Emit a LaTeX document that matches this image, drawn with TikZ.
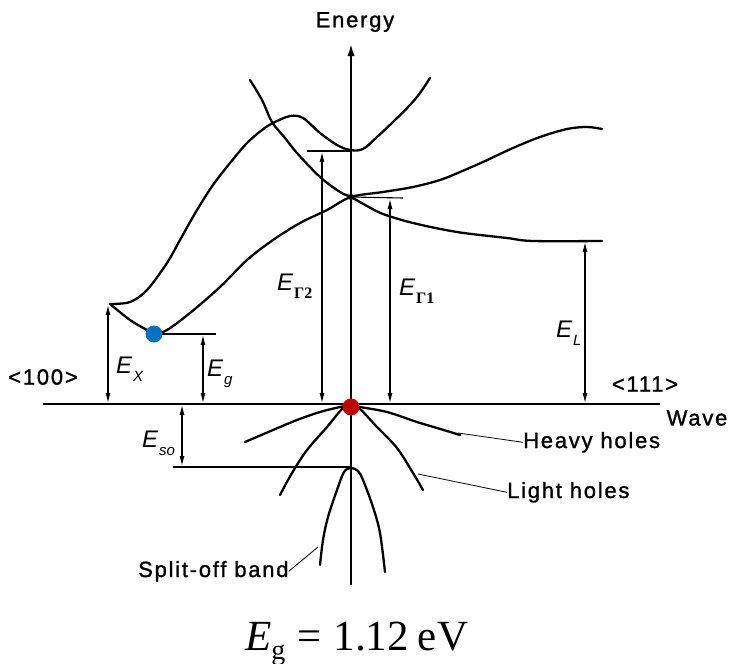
\documentclass[tikz,border=0pt]{standalone}
\usepackage{fontspec}
\setmainfont{Liberation Sans}
\newfontfamily\lab{Liberation Sans}[LetterSpace=8,FakeBold=1.2]
\newfontfamily\serif{Liberation Serif}
\usetikzlibrary{arrows.meta}
\definecolor{dotred}{RGB}{192,0,0}
\definecolor{dotblue}{RGB}{0,112,192}
\newcommand{\EE}[1]{{\fontsize{24}{24}\selectfont\itshape E}\kern1pt\raisebox{-8pt}{#1}}
\newcommand{\subit}[1]{\fontsize{15}{15}\selectfont\itshape #1}
\newcommand{\subgam}[1]{\serif\bfseries\fontsize{16}{16}\selectfont #1}
\begin{document}
\begin{tikzpicture}[x=1pt,y=-1pt,
  band/.style={line width=2.3pt, line cap=round, line join=round},
  axisline/.style={line width=2.7pt},
  thinline/.style={line width=1.1pt},
  leader/.style={line width=0.8pt},
  dim/.style={line width=1.1pt, {Latex[length=10pt,width=5pt]}-{Latex[length=10pt,width=5pt]}},
  lbl/.style={font=\lab\fontsize{22}{24}\selectfont, inner sep=0pt},
  elbl/.style={inner sep=0pt, anchor=base west},
]
\useasboundingbox (0,0) rectangle (731,664);

% key coordinates
\coordinate (G) at (351,405);
\coordinate (Gc) at (351,197);
\coordinate (X) at (110,304);
\coordinate (Xmin) at (154,334);
\coordinate (vb) at (351,585);
\coordinate (vt) at (351,42);
\coordinate (hl) at (43,404);
\coordinate (hr) at (660,404);

% axes
\draw[axisline] (hl) -- (hr);
\draw[axisline, -{Latex[length=14pt,width=7pt]}] (vb) -- (vt);

% conduction bands
\draw[band] plot[smooth, tension=0.55] coordinates {(110,304) (130,302) (147,290) (167,263) (180,240) (197,210) (213,185) (230,163) (247,143) (262,130) (273,123) (290,116) (303,118) (320,133) (337,145) (350,150) (363,149) (377,137) (393,122) (410,105) (420,93) (430,78)};
\draw[band] plot[smooth, tension=0.55] coordinates {(250,80) (262,100) (272,122) (285,138) (297,153) (320,177) (340,192) (351,197) (367,206) (383,214) (413,223) (457,232) (507,238) (533,241) (602,241)};
\draw[band] plot[smooth, tension=0.55] coordinates {(110,304) (130,320) (147,330) (154,334) (167,330) (190,313) (220,287) (247,260) (273,240) (300,223) (327,210) (351,197) (383,192) (413,187) (440,180) (460,172) (483,162) (513,148) (540,137) (567,129) (587,127) (602,129)};
\fill (Gc) circle (3);

% valence bands
\draw[band] plot[smooth, tension=0.55] coordinates {(351,405) (340,407) (320,412) (297,420) (273,430) (245,442)};
\draw[band] plot[smooth, tension=0.55] coordinates {(351,405) (360,407) (387,412) (417,422) (437,428) (460,435)};
\draw[band] plot[smooth, tension=0.55] coordinates {(351,405) (343,408) (327,427) (307,450) (292,473) (280,495)};
\draw[band] plot[smooth, tension=0.55] coordinates {(351,405) (360,409) (377,427) (397,448) (413,473) (423,490)};
\draw[band] plot[smooth, tension=0.55] coordinates {(320,565) (323,540) (328,517) (337,490) (344,472) (351,468) (358,471) (363,480) (373,507) (380,533) (385,572)};

% reference ticks
\draw[thinline] (Xmin) -- (216,334);
\draw[thinline] (307,151) -- (351,151);
\draw[thinline] (Gc) -- (403,198);
\draw[thinline] (173,467) -- (351,467);

% dimension arrows
\draw[dim] (108,305) -- (108,403);
\draw[dim] (203,335) -- (203,403);
\draw[dim] (322,152) -- (322,403);
\draw[dim] (390,199) -- (390,403);
\draw[dim] (585,242) -- (585,403);
\draw[dim] (182,405) -- (182,466);

% energy labels
\node[elbl] (ex) at (116,373) {\EE{\subit{X}}};
\node[elbl] (eg) at (207,376) {\EE{\subit{g}}};
\node[elbl] (eg2) at (277,290) {\EE{\subgam{Γ2}}};
\node[elbl] (eg1) at (399,295) {\EE{\subgam{Γ1}}};
\node[elbl] (el) at (556,337) {\EE{\subit{L}}};
\node[elbl] (eso) at (142,447) {\EE{\subit{so}}};

% text labels
\node[lbl] (energy) at (355,22) {Energy};
\node[lbl] (wave) at (697,418) {Wave};
\node[lbl] (d100) at (43,377) {<100>};
\node[lbl] (d111) at (645,384) {<111>};
\node[lbl, anchor=base west] (hh) at (523,448) {Heavy holes};
\node[lbl, anchor=base west] (lh) at (507,498) {Light holes};
\node[lbl, anchor=base west] (so) at (138,577) {Split-off band};

% leaders
\coordinate (hhend) at (458,433);
\coordinate (lhend) at (418,474);
\coordinate (soend) at (318,547);
\draw[leader] (hhend) -- (hh.west);
\draw[leader] (lhend) -- (lh.west);
\draw[leader] (soend) -- (so.east);

% dots
\fill[dotred] (351,407) circle (8.5);
\fill[dotblue] (Xmin) circle (8.5);

% formula
\node[inner sep=0pt, anchor=base west] (eq) at (245,650) {\serif\fontsize{43}{50}\selectfont\textit{E}\raisebox{-9pt}{\fontsize{28}{28}\selectfont g}\hspace{12pt}=\hspace{12pt}1.12\hspace{9pt}eV};
\end{tikzpicture}
\end{document}
